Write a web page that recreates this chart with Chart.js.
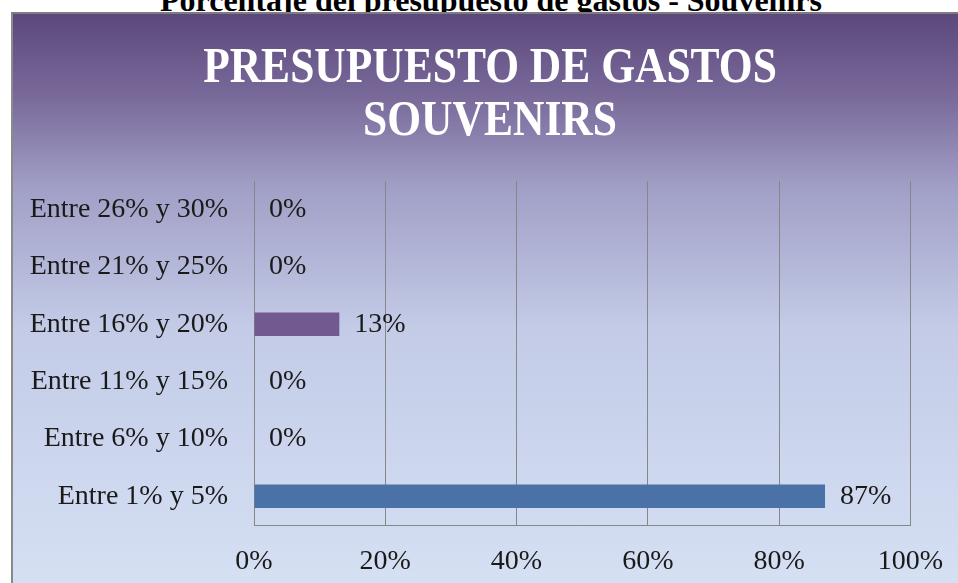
<!DOCTYPE html>
<html lang="es">
<head>
<meta charset="utf-8">
<title>Presupuesto de gastos - Souvenirs</title>
<script src="https://cdn.jsdelivr.net/npm/chart.js@4.4.1/dist/chart.umd.min.js"></script>
<style>
  html, body { margin: 0; padding: 0; width: 958px; height: 583px; overflow: hidden; background: #fff; }
  #pageTitle {
    position: absolute; left: 160px; top: -16px; margin: 0;
    font: bold 32px/32px 'Liberation Serif', 'Times New Roman', serif;
    white-space: nowrap; color: #000;
  }
  #frame {
    position: absolute; left: 11px; top: 12px; width: 950px; height: 569px;
    border-left: 2px solid #8a8a8a; border-top: 2px solid #7d7d7d; z-index: 1;
  }
  #frame canvas { display: block; }
</style>
</head>
<body>
<h1 id="pageTitle">Porcentaje del presupuesto de gastos - Souvenirs</h1>
<div id="frame"><canvas id="budgetChart" width="950" height="569"></canvas></div>

<script>
/* --- DATA --- */
const CATEGORIES = ['Entre 1% y 5%', 'Entre 6% y 10%', 'Entre 11% y 15%', 'Entre 16% y 20%', 'Entre 21% y 25%', 'Entre 26% y 30%'];
const PERCENTS = [87, 0, 0, 13, 0, 0];
const BAR_COLORS = ['#4a72a6', '#a4413e', '#86a34a', '#72598f', '#3f97ad', '#d9803a'];
const X_TICKS = [0, 20, 40, 60, 80, 100];
const TITLE_LINES = ['PRESUPUESTO DE GASTOS', 'SOUVENIRS'];

const SERIF = "'Liberation Serif', 'Times New Roman', serif";
const GRID_GRAY = '#878787';

// gradient fill behind the whole chart (purple at top, pale blue at bottom)
const bgGradient = {
  id: 'bgGradient',
  beforeDraw(chart) {
    const { ctx, width, height } = chart;
    const g = ctx.createLinearGradient(0, 0, 0, height);
    g.addColorStop(0, '#5c487c');
    g.addColorStop(0.15, '#7a6b9b');
    g.addColorStop(0.3, '#a09ec5');
    g.addColorStop(0.55, '#c3cbe7');
    g.addColorStop(1, '#d5e0f3');
    ctx.save();
    ctx.fillStyle = g;
    ctx.fillRect(0, 0, width, height);
    ctx.restore();
  }
};

// big white title, a bit condensed like the original Cambria heading
const condensedTitle = {
  id: 'condensedTitle',
  afterDraw(chart) {
    const { ctx } = chart;
    const baselines = [68, 121];
    ctx.save();
    ctx.font = `bold 50px ${SERIF}`;
    ctx.fillStyle = '#ffffff';
    ctx.textAlign = 'center';
    ctx.textBaseline = 'alphabetic';
    TITLE_LINES.forEach((line, i) => {
      ctx.save();
      ctx.translate(477, baselines[i]);
      ctx.scale(0.87, 1);
      ctx.fillText(line, 0, 0);
      ctx.restore();
    });
    ctx.restore();
  }
};

// "87%" style labels right after each bar end
const valueLabels = {
  id: 'valueLabels',
  afterDatasetsDraw(chart) {
    const { ctx } = chart;
    const meta = chart.getDatasetMeta(0);
    ctx.save();
    ctx.font = `28px ${SERIF}`;
    ctx.fillStyle = '#1a1a1a';
    ctx.textAlign = 'left';
    ctx.textBaseline = 'middle';
    meta.data.forEach((bar, i) => {
      ctx.fillText(`${PERCENTS[i]}%`, bar.x + 15, bar.y);
    });
    ctx.restore();
  }
};

new Chart(document.getElementById('budgetChart'), {
  type: 'bar',
  data: {
    labels: CATEGORIES,
    datasets: [{
      data: PERCENTS,
      backgroundColor: BAR_COLORS,
      borderWidth: 0,
      barPercentage: 0.41,
      categoryPercentage: 1.0
    }]
  },
  options: {
    indexAxis: 'y',
    responsive: false,
    animation: false,
    layout: { padding: { left: 0, right: 45, top: 167, bottom: 0 } },
    plugins: {
      legend: { display: false },
      tooltip: { enabled: false },
      title: { display: false }
    },
    scales: {
      x: {
        min: X_TICKS[0],
        max: X_TICKS[X_TICKS.length - 1],
        ticks: {
          stepSize: X_TICKS[1] - X_TICKS[0],
          callback: v => `${v}%`,
          font: { family: SERIF, size: 28 },
          color: '#1a1a1a',
          padding: 20
        },
        grid: { color: GRID_GRAY, lineWidth: 1, drawTicks: false },
        border: { display: true, color: GRID_GRAY, width: 1 },
        afterFit: s => { s.height = 58; }
      },
      y: {
        reverse: true,
        grid: { display: false, drawTicks: false },
        border: { display: true, color: GRID_GRAY, width: 1 },
        ticks: {
          font: { family: SERIF, size: 28 },
          color: '#1a1a1a',
          padding: 26
        },
        afterFit: s => { s.width = 241; }
      }
    }
  },
  plugins: [bgGradient, valueLabels, condensedTitle]
});
</script>
</body>
</html>
